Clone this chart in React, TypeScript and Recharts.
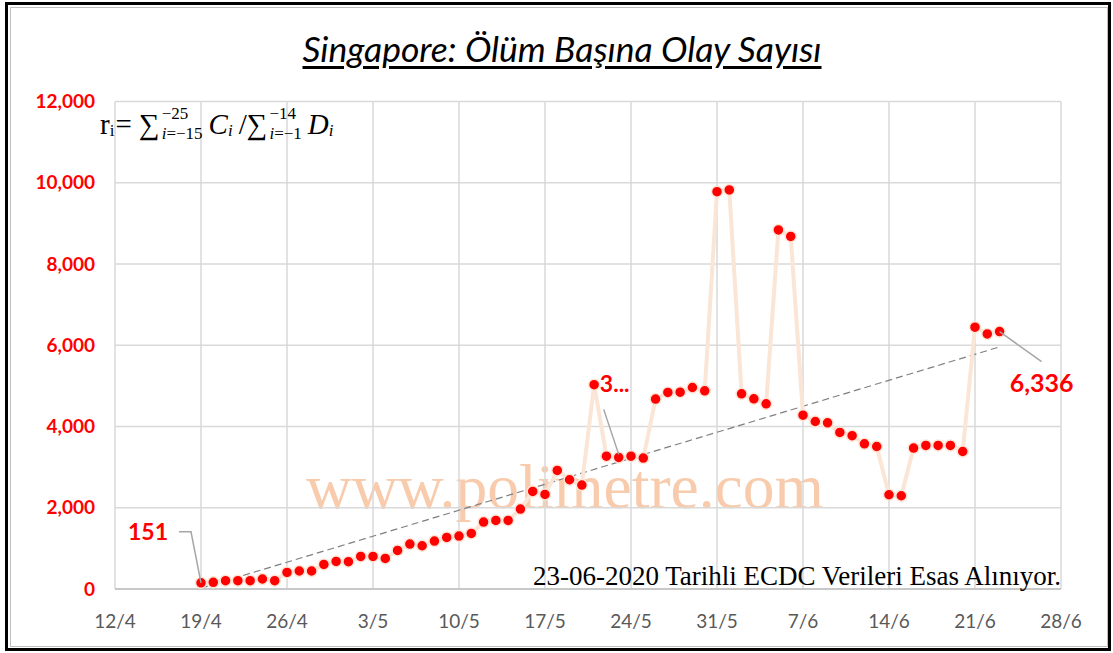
import React from "react"
import { LineChart, Line, XAxis, YAxis, CartesianGrid, ReferenceLine, LabelList } from "recharts"

// 19/4 .. 23/6, one value per day
const values = [
  151, 165, 204, 204, 204, 246, 204, 408, 443, 443, 605, 680,
  672, 802, 802, 753, 950, 1107, 1065, 1181, 1270, 1304, 1368, 1648, 1688, 1688, 1968, 2401,
  2327, 2918, 2689, 2558, 5030, 3270, 3240, 3270, 3222, 4674, 4840, 4846, 4960, 4878, 9781,
  9823, 4804, 4681, 4558, 8838, 8680, 4280, 4123, 4090, 3853, 3775, 3574, 3508, 2320, 2295,
  3469, 3533, 3533, 3533, 3385, 6445, 6280, 6336,
]
const firstDay = 7 // days after 12/4
const xTickLabels = ["12/4", "19/4", "26/4", "3/5", "10/5", "17/5", "24/5", "31/5", "7/6", "14/6", "21/6", "28/6"]
const yTicks = [0, 2000, 4000, 6000, 8000, 10000, 12000]
const trendStart = 20
const trendEnd = 5960
const labelled = [0, 34, 65]

const data = values.map((v, i) => ({ day: firstDay + i, value: v }))
const lastDay = firstDay + values.length - 1

const renderLabel = (props: any) => {
  const { x, y, index, value } = props
  if (!labelled.includes(index)) return null
  const txt = { fill: "#ff0000", fontWeight: 700, fontFamily: "Lato, sans-serif" }
  if (index === 0) {
    return (
      <g>
        <polyline points={`${x - 22},${y - 51} ${x - 10},${y - 51} ${x},${y}`} fill="none" stroke="#a6a6a6" strokeWidth={1.5} />
        <text x={x - 53} y={y - 49} textAnchor="middle" dominantBaseline="middle" fontSize={23} style={txt}>
          {value}
        </text>
      </g>
    )
  }
  if (index === 34) {
    return (
      <g>
        <line x1={x - 15} y1={y - 48} x2={x} y2={y - 3} stroke="#a6a6a6" strokeWidth={1.5} />
        <text x={x - 4} y={y - 71} textAnchor="middle" dominantBaseline="middle" fontSize={23} style={txt}>
          3...
        </text>
      </g>
    )
  }
  return (
    <g>
      <line x1={x} y1={y} x2={x + 42} y2={y + 30} stroke="#a6a6a6" strokeWidth={1.5} />
      <text x={x + 42} y={y + 54} textAnchor="middle" dominantBaseline="middle" fontSize={25} style={txt}>
        {value.toLocaleString("en-US")}
      </text>
    </g>
  )
}

export default function App() {
  return (
    <div style={{ position: "absolute", left: 0, top: 0, width: 1113, height: 653, background: "#fff", overflow: "hidden" }}>
      <div style={{ position: "absolute", left: 5, top: 2, width: 1100, height: 643, border: "3px solid #000" }} />
      <div style={{ position: "absolute", left: 10, top: 7, width: 1096, height: 638, border: "1px solid #bfbfbf" }} />

      <div
        style={{
          position: "absolute", left: 0, width: 1124, top: 27, textAlign: "center",
          fontFamily: "Lato, sans-serif", fontStyle: "italic", fontSize: 35.5, textDecoration: "underline",
          textUnderlineOffset: 4, color: "#000",
        }}
      >
        Singapore: Ölüm Başına Olay Sayısı
      </div>

      <div
        style={{
          position: "absolute", left: 300, width: 530, top: 450, textAlign: "center",
          fontFamily: "'Liberation Serif', serif", fontSize: 63.5, color: "#f8cbad", whiteSpace: "nowrap",
        }}
      >
        www.polimetre.com
      </div>

      <div style={{ position: "absolute", left: 0, top: 0 }}>
        <LineChart width={1113} height={653} data={data} margin={{ top: 101.5, right: 52, bottom: 24, left: 0 }}>
          <CartesianGrid stroke="#d9d9d9" strokeWidth={1.5} />
          <XAxis
            type="number"
            dataKey="day"
            domain={[0, 77]}
            ticks={xTickLabels.map((_, i) => i * 7)}
            interval={0}
            tickFormatter={(v: number) => xTickLabels[v / 7]}
            height={40}
            tickLine={false}
            tickSize={0}
            tickMargin={26}
            axisLine={{ stroke: "#bfbfbf", strokeWidth: 1.5 }}
            tick={{ fill: "#595959", fontSize: 19, fontFamily: "Lato, sans-serif" }}
          />
          <YAxis
            domain={[0, 12000]}
            ticks={yTicks}
            width={115}
            axisLine={false}
            tickLine={false}
            tickSize={0}
            tickMargin={20}
            tickFormatter={(v: number) => v.toLocaleString("en-US")}
            tick={{ fill: "#ff0000", fontSize: 19, fontWeight: 700, fontFamily: "Lato, sans-serif" }}
          />
          <ReferenceLine
            segment={[{ x: firstDay, y: trendStart }, { x: lastDay, y: trendEnd }]}
            stroke="#7f7f7f"
            strokeWidth={1.2}
            strokeDasharray="7 4"
          />
          <Line
            type="linear"
            dataKey="value"
            stroke="#fbe5d6"
            strokeWidth={4}
            dot={{ r: 5.5, fill: "#ff0000", stroke: "#fce4d6", strokeWidth: 1.5 }}
            isAnimationActive={false}
          >
            <LabelList dataKey="value" content={renderLabel} />
          </Line>
        </LineChart>
      </div>

      <div
        style={{
          position: "absolute", left: 100, top: 104, fontFamily: "'Liberation Serif', serif", fontSize: 29,
          color: "#000", display: "flex", alignItems: "center", whiteSpace: "nowrap",
        }}
      >
        <span>r</span>
        <span style={{ fontSize: 17, alignSelf: "flex-end", marginBottom: 3, marginRight: 1 }}>i</span>
        <span>=&nbsp;∑</span>
        <span style={{ display: "inline-flex", flexDirection: "column", fontSize: 17, lineHeight: "20px", marginLeft: 2 }}>
          <span>−25</span>
          <span><i>i</i>=−15</span>
        </span>
        <span style={{ marginLeft: 6 }}><i>C</i></span>
        <span style={{ fontSize: 17, alignSelf: "flex-end", marginBottom: 3 }}><i>i</i></span>
        <span style={{ marginLeft: 6 }}>/∑</span>
        <span style={{ display: "inline-flex", flexDirection: "column", fontSize: 17, lineHeight: "20px", marginLeft: 2 }}>
          <span>−14</span>
          <span><i>i</i>=−1</span>
        </span>
        <span style={{ marginLeft: 6 }}><i>D</i></span>
        <span style={{ fontSize: 17, alignSelf: "flex-end", marginBottom: 3 }}><i>i</i></span>
      </div>

      <div
        style={{
          position: "absolute", left: 533, top: 561, fontFamily: "'Liberation Serif', serif", fontSize: 27,
          color: "#000", whiteSpace: "nowrap",
        }}
      >
        23-06-2020 Tarihli ECDC Verileri Esas Alınıyor.
      </div>
    </div>
  )
}
